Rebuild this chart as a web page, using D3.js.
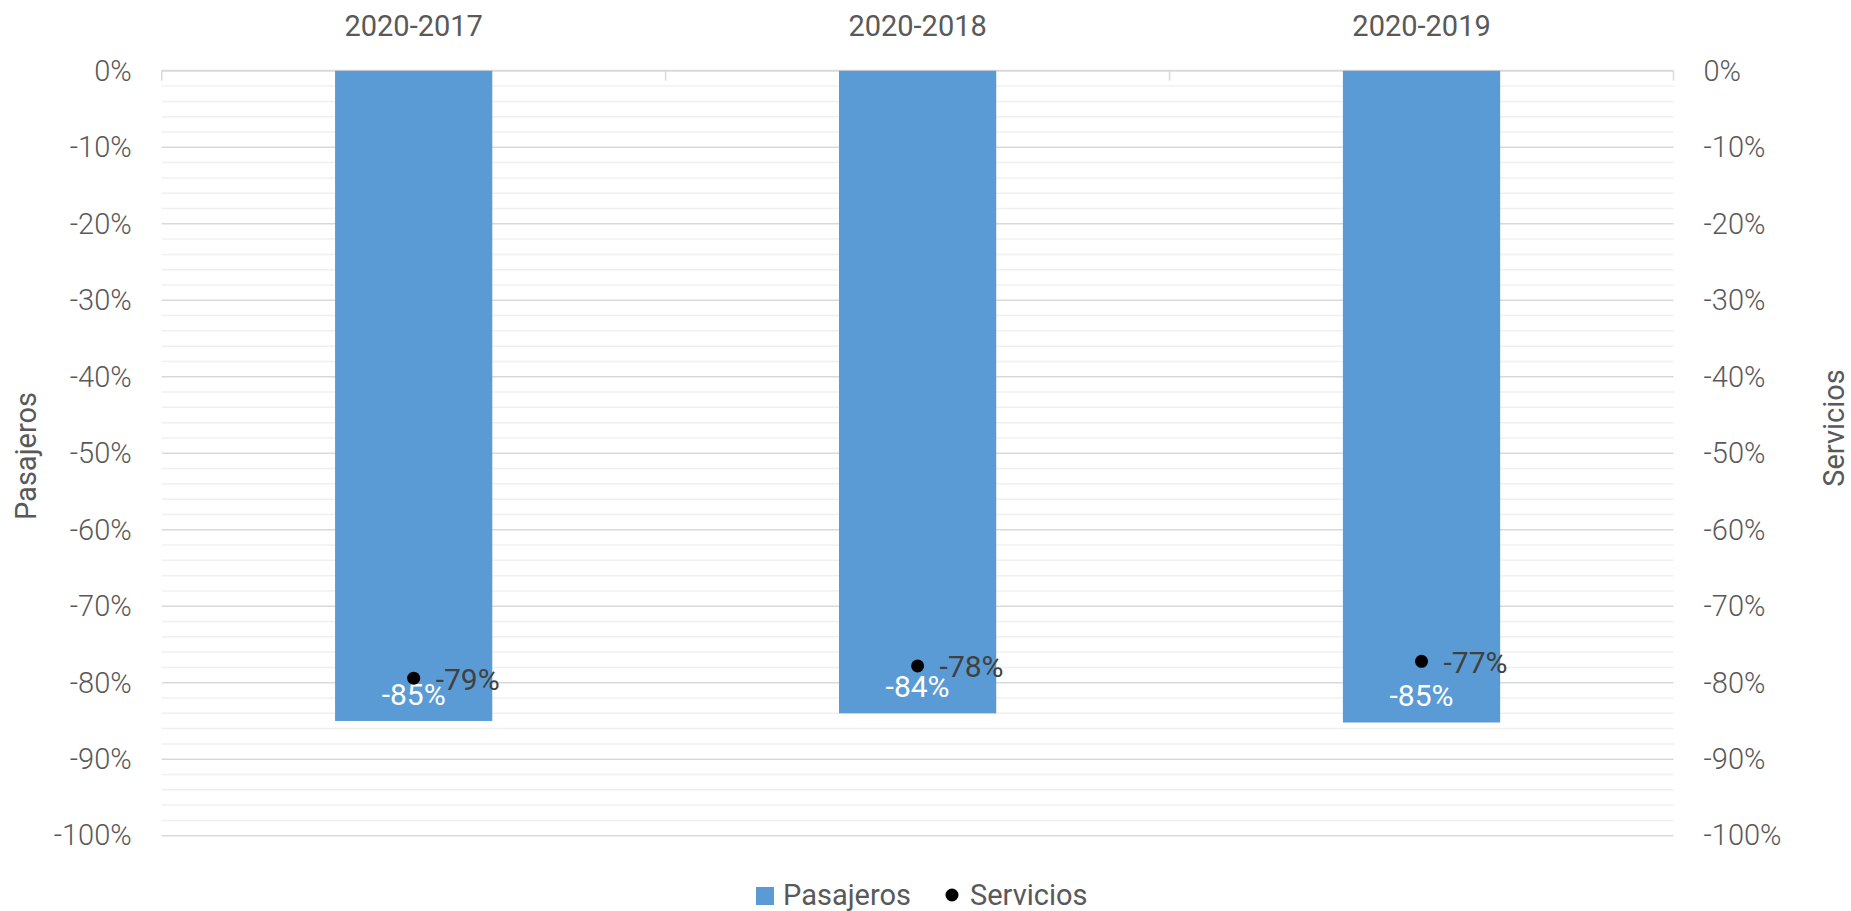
<!DOCTYPE html>
<html>
<head>
<meta charset="utf-8">
<script src="https://cdn.jsdelivr.net/npm/d3@7"></script>
<style>
  body { margin: 0; background: #fff; }
  svg { display: block; font-family: Roboto, 'Noto Sans', sans-serif; }
</style>
</head>
<body>
<svg id="chart"></svg>
<script>
// data
const categories = ['2020-2017', '2020-2018', '2020-2019'];
const pasajeros = [-0.850, -0.840, -0.852];
const servicios = [-0.794, -0.778, -0.772];
const majorTicks = [0, -0.1, -0.2, -0.3, -0.4, -0.5, -0.6, -0.7, -0.8, -0.9, -1];
const seriesNames = ['Pasajeros', 'Servicios'];

var width = 1851, height = 911;
var plot = {left: 161.7, right: 1673.5, top: 70.8, bottom: 835.7};

const svg = d3.select('#chart')
    .attr('width', width)
    .attr('height', height);

const xScale = d3.scaleBand()
    .domain(categories)
    .range([plot.left, plot.right])
    .paddingInner(0.688)
    .paddingOuter(0.344);

// band edges for category tick marks
const band = d3.scaleBand()
    .domain(categories)
    .range([plot.left, plot.right]);

const yScale = d3.scaleLinear()
    .domain([-1, 0])
    .range([plot.bottom, plot.top]);

const pct = d => Math.round(d * 100) + '%';

// minor gridlines every 2%
svg.append('g')
    .selectAll('line')
    .data(yScale.ticks(50).filter(t => Math.round(t * 100) % 10 !== 0))
    .enter()
    .append('line')
    .attr('x1', plot.left).attr('x2', plot.right)
    .attr('y1', d => yScale(d)).attr('y2', d => yScale(d))
    .attr('stroke', '#f0f0f0')
    .attr('stroke-width', 1.5);

// major gridlines
svg.append('g')
    .selectAll('line')
    .data(majorTicks)
    .enter()
    .append('line')
    .attr('x1', plot.left).attr('x2', plot.right)
    .attr('y1', d => yScale(d)).attr('y2', d => yScale(d))
    .attr('stroke', '#d9d9d9')
    .attr('stroke-width', d => d === 0 ? 2 : 1.5);

// category tick marks hanging from the 0% line
const edges = categories.map(c => band(c)).concat([plot.right]);
svg.append('g')
    .selectAll('line')
    .data(edges)
    .enter()
    .append('line')
    .attr('x1', d => d).attr('x2', d => d)
    .attr('y1', yScale(0)).attr('y2', yScale(0) + 10)
    .attr('stroke', '#d9d9d9')
    .attr('stroke-width', 1.5);

// left axis
const leftAxis = svg.append('g')
    .attr('transform', 'translate(' + (plot.left - 30) + ',0)')
    .call(d3.axisLeft(yScale).tickValues(majorTicks).tickSize(0).tickPadding(0).tickFormat(pct));

// right axis
const rightAxis = svg.append('g')
    .attr('transform', 'translate(' + (plot.right + 30) + ',0)')
    .call(d3.axisRight(yScale).tickValues(majorTicks).tickSize(0).tickPadding(0).tickFormat(pct));

[leftAxis, rightAxis].forEach(function(ax){
    ax.select('.domain').remove();
    ax.selectAll('text')
        .attr('font-family', 'Roboto')
        .attr('font-weight', 300)
        .attr('font-size', 29)
        .attr('fill', '#595959');
});

// category labels on top
svg.append('g')
    .selectAll('text')
    .data(categories)
    .enter()
    .append('text')
    .attr('x', d => xScale(d) + xScale.bandwidth() / 2)
    .attr('y', 26)
    .attr('dy', '0.35em')
    .attr('text-anchor', 'middle')
    .attr('font-size', 29)
    .attr('fill', '#595959')
    .text(d => d);

// bars
svg.append('g')
    .selectAll('rect')
    .data(pasajeros)
    .enter()
    .append('rect')
    .attr('x', (d, i) => xScale(categories[i]))
    .attr('width', xScale.bandwidth())
    .attr('y', yScale(0))
    .attr('height', d => yScale(d) - yScale(0))
    .attr('fill', '#5b9bd5');

// bar labels, inside end
svg.append('g')
    .selectAll('text')
    .data(pasajeros)
    .enter()
    .append('text')
    .attr('x', (d, i) => xScale(categories[i]) + xScale.bandwidth() / 2)
    .attr('y', d => yScale(d) - 16)
    .attr('text-anchor', 'middle')
    .attr('font-size', 30)
    .attr('fill', '#ffffff')
    .text(d => pct(d));

// servicios points
svg.append('g')
    .selectAll('circle')
    .data(servicios)
    .enter()
    .append('circle')
    .attr('cx', (d, i) => xScale(categories[i]) + xScale.bandwidth() / 2)
    .attr('cy', d => yScale(d))
    .attr('r', 6.5)
    .attr('fill', '#000');

svg.append('g')
    .selectAll('text')
    .data(servicios)
    .enter()
    .append('text')
    .attr('x', (d, i) => xScale(categories[i]) + xScale.bandwidth() / 2 + 22)
    .attr('y', d => yScale(d) + 1)
    .attr('dy', '0.35em')
    .attr('font-size', 30)
    .attr('fill', '#404040')
    .text(d => pct(d));

// axis titles
svg.append('text')
    .attr('transform', 'translate(36,456) rotate(-90)')
    .attr('text-anchor', 'middle')
    .attr('font-size', 29)
    .attr('fill', '#595959')
    .text(seriesNames[0]);

svg.append('text')
    .attr('transform', 'translate(1844,428) rotate(-90)')
    .attr('text-anchor', 'middle')
    .attr('font-size', 29)
    .attr('fill', '#595959')
    .text(seriesNames[1]);

// legend
const legend = svg.append('g');
legend.append('rect')
    .attr('x', 756).attr('y', 887)
    .attr('width', 18).attr('height', 18)
    .attr('fill', '#5b9bd5');
legend.append('text')
    .attr('x', 783).attr('y', 905)
    .attr('font-size', 29)
    .attr('fill', '#595959')
    .text(seriesNames[0]);
legend.append('circle')
    .attr('cx', 952).attr('cy', 895)
    .attr('r', 6.5)
    .attr('fill', '#000');
legend.append('text')
    .attr('x', 970).attr('y', 905)
    .attr('font-size', 29)
    .attr('fill', '#595959')
    .text(seriesNames[1]);
</script>
</body>
</html>
